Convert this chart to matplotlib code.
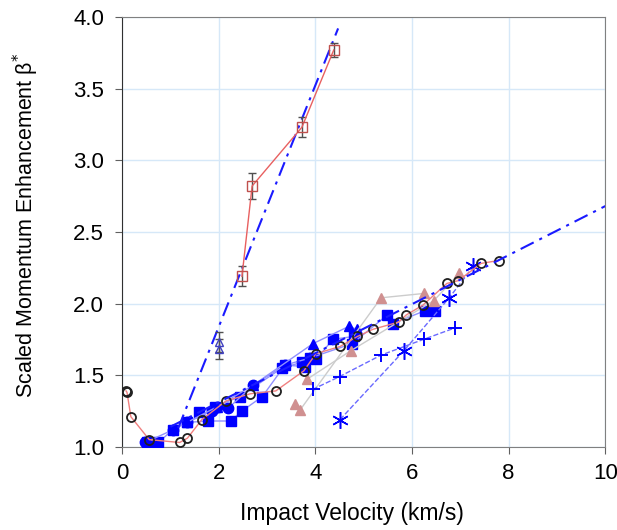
import matplotlib
matplotlib.use('Agg')
import matplotlib.pyplot as plt
import numpy as np

plt.rcParams['font.family'] = ['Liberation Sans', 'DejaVu Sans']

# 数据
# red open squares with error bars
sq_v = [2.48, 2.69, 3.72, 4.38]
sq_b = [2.19, 2.82, 3.23, 3.77]
sq_err = [0.07, 0.09, 0.07, 0.05]

# blue open triangles with error bars at 2 km/s
tri_err_v = [2.0, 2.0]
tri_err_b = [1.73, 1.68]
tri_err_e = [0.07, 0.07]

# open circles (red line)
circ_v = [0.08, 0.10, 0.18, 0.56, 1.19, 1.35, 1.65, 2.15, 2.65, 3.18, 3.76, 4.01,
          4.51, 4.87, 5.19, 5.72, 5.88, 6.23, 6.72, 6.96, 7.43, 7.79]
circ_b = [1.39, 1.38, 1.21, 1.05, 1.03, 1.06, 1.19, 1.32, 1.37, 1.39, 1.53, 1.65,
          1.70, 1.77, 1.82, 1.87, 1.92, 1.99, 2.14, 2.16, 2.28, 2.30]

# blue filled series
bsq1_v = [0.51, 0.61, 0.75, 1.05, 1.34, 1.77, 2.25, 2.48, 2.90, 3.37, 3.79, 4.02, 4.36, 4.79]
bsq1_b = [1.03, 1.00, 1.03, 1.12, 1.17, 1.18, 1.18, 1.25, 1.35, 1.57, 1.56, 1.61, 1.75, 1.77]
bsq2_v = [1.59, 1.93, 2.43, 3.31, 3.72, 3.89, 4.76, 5.49, 5.60, 6.27, 6.48]
bsq2_b = [1.24, 1.28, 1.35, 1.55, 1.59, 1.62, 1.72, 1.92, 1.86, 1.95, 1.95]
bcir_v = [0.48, 1.06, 1.34, 1.86, 1.97, 2.20, 2.71, 3.37, 3.89]
bcir_b = [1.03, 1.12, 1.17, 1.25, 1.28, 1.27, 1.43, 1.57, 1.62]
btri_v = [1.34, 1.97, 2.71, 3.95, 4.69, 4.86]
btri_b = [1.17, 1.28, 1.43, 1.72, 1.84, 1.82]

# pink triangles (grey lines)
pk1_v = [3.58, 3.69, 5.36, 6.24]
pk1_b = [1.30, 1.26, 2.04, 2.07]
pk2_v = [3.82, 4.73, 6.45, 6.98]
pk2_b = [1.47, 1.67, 2.02, 2.21]

# blue plus (dashed)
plus_v = [3.94, 4.50, 5.36, 6.24, 6.89]
plus_b = [1.40, 1.49, 1.64, 1.75, 1.83]
# blue asterisk (dashed)
ast_v = [4.51, 5.83, 6.77, 7.27]
ast_b = [1.19, 1.67, 2.04, 2.26]

# dash-dot fits
fit1_v = [1.16, 4.47]
fit1_b = [1.13, 3.92]
fit2_v = [1.0, 10.0]
fit2_b = [1.14, 2.68]

fig = plt.figure(figsize=(6.17, 5.30), dpi=100)
ax = fig.add_axes([0.198, 0.157, 0.783, 0.811])

ax.grid(True, color='#d6e8f8', linewidth=1.0)
ax.set_axisbelow(True)

lb = '#9090ff'
ax.plot(bsq1_v, bsq1_b, '-', color=lb, lw=1.0, marker='s', ms=7.5, mfc='#0000ff', mec='#0000ff', zorder=3)
ax.plot(bsq2_v, bsq2_b, '-', color=lb, lw=1.0, marker='s', ms=7.5, mfc='#0000ff', mec='#0000ff', zorder=3)
ax.plot(bcir_v, bcir_b, '-', color=lb, lw=1.0, marker='o', ms=7.5, mfc='#0000ff', mec='#0000ff', zorder=3)
ax.plot(btri_v, btri_b, '-', color=lb, lw=1.0, marker='^', ms=7.5, mfc='#0000ff', mec='#0000ff', zorder=3)

ax.plot(pk1_v, pk1_b, '-', color='#cccccc', lw=1.0, marker='^', ms=7, mfc='#d09090', mec='#d09090', zorder=3)
ax.plot(pk2_v, pk2_b, '-', color='#cccccc', lw=1.0, marker='^', ms=7, mfc='#d09090', mec='#d09090', zorder=3)

ax.plot(plus_v, plus_b, '--', color='#6a6aff', lw=1.0, marker='+', ms=10, mew=1.4, mec='#0000ff', zorder=3)
ax.plot(ast_v, ast_b, '--', color='#6a6aff', lw=1.0, marker=(6, 2, 0), ms=12, mew=1.1, mec='#0000ff', zorder=3)

ax.plot(circ_v, circ_b, '-', color='#f08080', lw=1.0, marker='o', ms=6.5, mfc='none', mec='#202020', mew=1.3, zorder=4)

ax.plot(fit1_v, fit1_b, color='#1a1aff', lw=1.5, dashes=(7, 3, 1.5, 3), zorder=4)
ax.plot(fit2_v, fit2_b, color='#1a1aff', lw=1.5, dashes=(7, 3, 1.5, 3), zorder=4)

ax.errorbar(sq_v, sq_b, yerr=sq_err, fmt='-s', color='#e86060', lw=1.0, ms=6.5, mfc='none',
            mec='#c0504d', ecolor='#505050', elinewidth=1.0, capsize=3, zorder=5)
ax.errorbar(tri_err_v, tri_err_b, yerr=tri_err_e, fmt='^', ms=6, mfc='none', mec='#4040c0',
            ecolor='#505050', elinewidth=1.0, capsize=3, zorder=5)

ax.set_xlim(0, 10)
ax.set_ylim(1.0, 4.0)
ax.set_xticks([0, 2, 4, 6, 8, 10])
ax.set_yticks([1.0, 1.5, 2.0, 2.5, 3.0, 3.5, 4.0])
ax.set_yticklabels(['1.0', '1.5', '2.0', '2.5', '3.0', '3.5', '4.0'])
ax.tick_params(labelsize=16, direction='out', length=5, color='#606060')
ax.tick_params(axis='x', pad=7)
ax.tick_params(axis='y', pad=8)

for s in ['top', 'right', 'bottom']:
    ax.spines[s].set_color('#808080')
ax.spines['left'].set_color('#303030')

ax.set_xlabel('Impact Velocity (km/s)', fontsize=16.5)
ax.set_ylabel('Scaled Momentum Enhancement β$^{*}$', fontsize=15.5)
ax.xaxis.set_label_coords(0.476, -0.128)
ax.yaxis.set_label_coords(-0.168, 0.515)

plt.savefig('out.png', dpi=100)
